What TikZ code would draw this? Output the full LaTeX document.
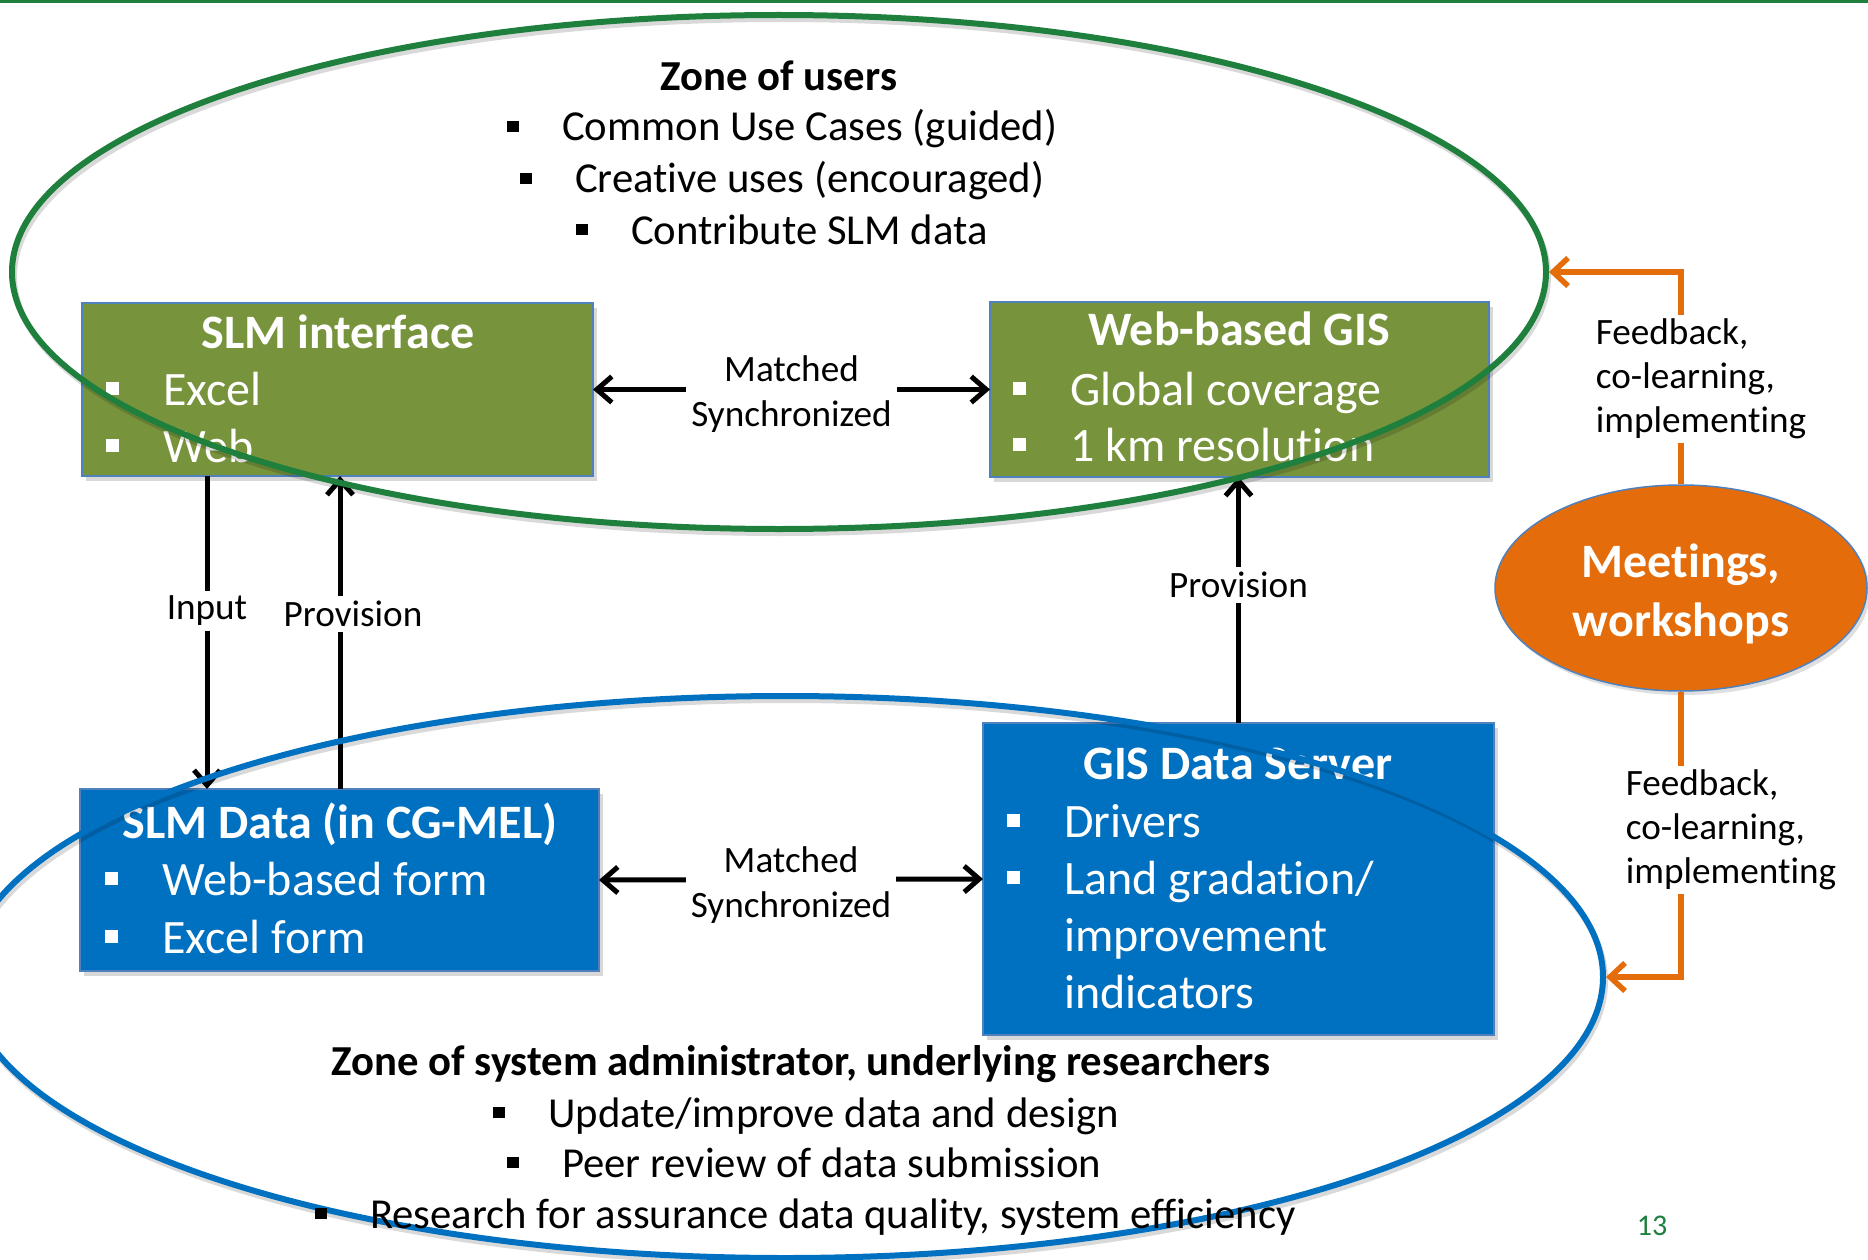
\documentclass[tikz,border=0pt]{standalone}
\usepackage{fontspec}
\setmainfont{Carlito}[Ligatures=NoCommon]
\usetikzlibrary{arrows.meta,shapes.geometric,shadows}

\definecolor{zonegreen}{RGB}{31,128,62}
\definecolor{olivebox}{RGB}{119,147,60}
\definecolor{bluebox}{RGB}{0,112,192}
\definecolor{boxedge}{RGB}{79,129,189}
\definecolor{zoneblue}{RGB}{0,112,192}
\definecolor{meetorange}{RGB}{228,108,10}

% small square bullet followed by the item text
\newcommand{\sqbul}{\rule[0.2em]{0.27em}{0.27em}}
\newcommand{\bitem}[2][57pt]{\makebox[#1][l]{\sqbul}#2}

\tikzset{
  box/.style={rectangle, draw=boxedge, line width=1.5pt, inner sep=0pt, outer sep=0pt,
    anchor=north west, drop shadow={shadow xshift=4pt, shadow yshift=-5pt, opacity=0.3}},
  greenbox/.style={box, fill=olivebox},
  bluebx/.style={box, fill=bluebox},
  boxtitle/.style={text=white, font=\fontsize{48}{57}\selectfont\bfseries, anchor=base, inner sep=0pt},
  boxitem/.style={text=white, font=\fontsize{48}{57}\selectfont, anchor=base west, inner sep=0pt},
  zonetitle/.style={font=\fontsize{42.7}{51}\selectfont\bfseries, anchor=base, inner sep=0pt},
  zoneitem/.style={font=\fontsize{42.7}{51}\selectfont, anchor=base west, inner sep=0pt},
  tipb/.tip={Straight Barb[length=15pt,width=26pt]},
  arr/.style={line width=5pt, draw=black, -tipb},
  darr/.style={line width=5pt, draw=black, tipb-tipb},
  lbl/.style={fill=white, inner sep=5pt, font=\fontsize{37.2}{45}\selectfont, align=center},
  zone/.style={ellipse, line width=6pt, inner sep=0pt},
  zoneshadow/.style={line width=6pt, draw=black, opacity=0.15},
  oarr/.style={line width=5.5pt, draw=meetorange, -{Straight Barb[length=15pt,width=28pt]}},
  fblbl/.style={fill=white, inner sep=4pt, font=\fontsize{37.2}{44}\selectfont, align=left},
  meetnode/.style={ellipse, fill=meetorange, draw=boxedge, line width=1.5pt, inner sep=0pt,
    minimum width=372pt, minimum height=206pt,
    drop shadow={shadow xshift=3pt, shadow yshift=-4pt, opacity=0.25}},
  meettext/.style={text=white, align=center, inner sep=0pt,
    font=\fontsize{48}{59}\selectfont\bfseries},
}

\begin{document}
\begin{tikzpicture}[x=1pt, y=-1pt]
\useasboundingbox (0,0) rectangle (1868,1260);
\fill[white] (0,0) rectangle (1868,1260);
\fill[zonegreen] (0,0) rectangle (1868,3);

% ---- the four component boxes ----
\node[greenbox, minimum width=511pt, minimum height=173pt] (slmi) at (82,303) {};
\node[boxtitle] (slmi-t) at (338,348) {SLM interface};
\node[boxitem] (slmi-1) at (106,405) {\bitem{Excel}};
\node[boxitem] (slmi-2) at (106,462) {\bitem{Web}};

\node[greenbox, minimum width=499pt, minimum height=175pt] (wgis) at (990,302) {};
\node[boxtitle] (wgis-t) at (1239,345) {Web-based GIS};
\node[boxitem] (wgis-1) at (1013,405) {\bitem{Global coverage}};
\node[boxitem] (wgis-2) at (1013,461) {\bitem{1 km resolution}};

\node[bluebx, minimum width=519pt, minimum height=182pt] (slmd) at (80,789) {};
\node[boxtitle] (slmd-t) at (340,838) {SLM Data (in CG-MEL)};
\node[boxitem] (slmd-1) at (105,895) {\bitem{Web-based form}};
\node[boxitem] (slmd-2) at (105,953) {\bitem{Excel form}};

\node[bluebx, minimum width=511pt, minimum height=312pt] (gsrv) at (983,723) {};
\node[boxtitle] (gsrv-t) at (1238,779) {GIS Data Server};
\node[boxitem] (gsrv-1) at (1007,837) {\bitem{Drivers}};
\node[boxitem] (gsrv-2) at (1007,894) {\bitem{Land gradation/}};
\node[boxitem] (gsrv-3) at (1064,951) {improvement};
\node[boxitem] (gsrv-4) at (1064,1008) {indicators};

% ---- connectors between the boxes ----
\coordinate (inx) at (207,0);
\coordinate (prx) at (340,0);
\draw[darr] (slmi.east) -- (wgis.west)
  node[lbl, midway, yshift=-5pt] (lms1) {Matched\\Synchronized};
\draw[darr] (slmd.east) -- (gsrv.west)
  node[lbl, midway, yshift=-6pt] (lms2) {Matched\\Synchronized};
\draw[arr] (slmi.south -| inx) -- (slmd.north -| inx)
  node[lbl, pos=0.43] (lin) {Input};
\draw[arr] (slmd.north -| prx) -- (slmi.south -| prx)
  node[lbl, pos=0.56, xshift=13pt] (lpl) {Provision};
\draw[arr] (gsrv.north) -- (gsrv.north |- wgis.south)
  node[lbl, pos=0.56] (lpr) {Provision};

% ---- the two zones ----
\draw[zoneshadow] (781,276) ellipse [x radius=767pt, y radius=257pt];
\node[zone, draw=zonegreen, minimum width=1534pt, minimum height=514pt] (uzone) at (779,272) {};
\draw[zoneshadow] (787,981) ellipse [x radius=818pt, y radius=281pt];
\node[zone, draw=zoneblue, minimum width=1636pt, minimum height=562pt] (azone) at (785,977) {};

\node[zonetitle] (uz-t) at (779,91) {Zone of users};
\node[zoneitem] (uz-1) at (507,141) {\bitem[55pt]{Common Use Cases (guided)}};
\node[zoneitem] (uz-2) at (520,193) {\bitem[55pt]{Creative uses (encouraged)}};
\node[zoneitem] (uz-3) at (576,244) {\bitem[55pt]{Contribute SLM data}};

\node[zonetitle] (az-t) at (801,1075) {Zone of system administrator, underlying researchers};
\node[zoneitem] (az-1) at (493,1127) {\bitem[55pt]{Update/improve data and design}};
\node[zoneitem] (az-2) at (507,1177) {\bitem[55pt]{Peer review of data submission}};
\node[zoneitem] (az-3) at (315,1228) {\bitem[55pt]{Research for assurance data quality, system efficiency}};

% ---- meetings and the feedback loops ----
\node[meetnode] (meet) at (1681,588) {};
\node[meettext] (meet-t) at (1681,594) {Meetings,\\workshops};
\draw[oarr] (meet.north) |- (uzone.east);
\draw[oarr] (meet.south) |- (azone.east);
\node[fblbl] (fb1) at (1701,379) {Feedback,\\co-learning,\\implementing};
\node[fblbl] (fb2) at (1731,830) {Feedback,\\co-learning,\\implementing};

\node[font=\fontsize{30}{36}\selectfont, text=zonegreen] (pgno) at (1652,1226) {13};
\end{tikzpicture}
\end{document}
